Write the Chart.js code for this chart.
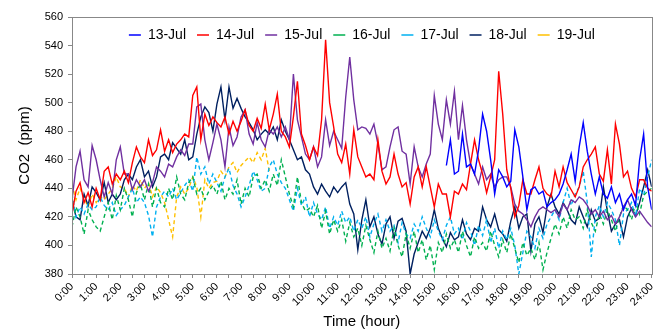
<!DOCTYPE html>
<html>
<head>
<meta charset="utf-8">
<script src="https://cdn.jsdelivr.net/npm/chart.js@4.4.0/dist/chart.umd.min.js"></script>
<style>
body { margin: 0; background: #fff; }
#graph1 { display: block; }
</style>
</head>
<body>
<canvas id="graph1" width="663" height="332"></canvas>
<script>
// CO2 readings every 10 minutes (ppm)
const hour_labels = ["0:00","1:00","2:00","3:00","4:00","5:00","6:00","7:00","8:00","9:00","10:00","11:00",
    "12:00","13:00","14:00","15:00","16:00","17:00","18:00","19:00","20:00","21:00","22:00","23:00","24:00"];
const series_names = ["13-Jul","14-Jul","15-Jul","16-Jul","17-Jul","18-Jul","19-Jul"];

// 13-Jul starts at 15:30
const jul13_start = 15.5;
const jul13 = [456, 474, 450,
    452, 478, 455, 457, 450, 467,
    492, 480, 460, 436, 453, 448,
    441, 445, 481, 469, 448, 425,
    439, 441, 436, 438, 427, 430,
    432, 436, 443, 453, 464, 445,
    469, 486, 466, 450, 436, 448,
    436, 433, 441, 430, 436, 425,
    432, 436, 428, 460, 478, 441,
    425];

const jul14 = [422, 438, 444, 430, 437, 427,
    440, 432, 452, 455, 443, 450,
    446, 452, 444, 458, 469, 462,
    458, 474, 463, 467, 481, 466,
    474, 465, 471, 474, 478, 476,
    505, 511, 474, 492, 484, 490,
    486, 483, 490, 478, 487, 480,
    487, 495, 484, 480, 489, 482,
    499, 481, 492, 506, 480, 476,
    469, 490, 515, 478, 470, 460,
    469, 463, 488, 544, 500, 483,
    464, 458, 471, 450, 481, 462,
    455, 448, 450, 446, 474, 452,
    443, 448, 464, 450, 441, 444,
    429, 448, 455, 441, 455, 441,
    427, 443, 436, 436, 420, 438,
    436, 443, 439, 457, 474, 460,
    450, 437, 448, 460, 522, 492,
    453, 440, 420, 428, 446, 436,
    436, 446, 455, 440, 436, 434,
    452, 441, 455, 444, 439, 434,
    441, 455, 460, 464, 469, 450,
    445, 467, 443, 485, 471, 448,
    452, 440, 434, 446, 446, 440,
    438];

const jul15 = [432, 455, 466, 446, 441, 470,
    460, 446, 434, 444, 436, 460,
    469, 450, 450, 439, 446, 441,
    446, 438, 444, 455, 452, 448,
    457, 455, 462, 467, 463, 471,
    471, 497, 499, 474, 460, 472,
    485, 474, 455, 483, 470, 476,
    490, 495, 478, 471, 486, 474,
    469, 481, 478, 483, 476, 483,
    474, 520, 488, 476, 464, 460,
    469, 455, 462, 488, 470, 480,
    474, 468, 504, 532, 502, 481,
    483, 482, 478, 485, 471, 453,
    455, 469, 481, 483, 466, 464,
    443, 469, 455, 448, 457, 464,
    505, 485, 474, 502, 485, 508,
    474, 498, 474, 457, 450, 443,
    455, 446, 450, 441, 446, 448,
    448, 441, 429, 424, 422, 418,
    413, 420, 425, 427, 425, 423,
    425, 420, 429, 425, 432, 430,
    434, 432, 428, 422, 425, 420,
    424, 418, 421, 415, 420, 427,
    432, 425, 420, 424, 420, 416,
    413];

const jul16 = [413, 427, 420, 408, 425, 418,
    413, 410, 420, 430, 418, 435,
    425, 440, 432, 420, 437, 443,
    432, 443, 427, 440, 430, 427,
    440, 432, 448, 436, 432, 444,
    448, 436, 440, 432, 438, 442,
    436, 445, 432, 440, 436, 446,
    429, 440, 434, 448, 450, 440,
    446, 438, 450, 442, 460, 448,
    436, 427, 448, 430, 424, 426,
    420, 428, 412, 424, 408, 418,
    410, 418, 403, 416, 406, 412,
    400, 414, 404, 395, 410, 398,
    405, 396, 412, 400, 392, 408,
    398, 410, 395, 404, 390, 400,
    383, 402, 395, 408, 398, 404,
    395, 410, 400, 392, 406, 398,
    402, 396, 410, 400, 392, 404,
    395, 408, 398, 388, 402, 393,
    398, 390, 402, 383, 395, 405,
    415, 408, 420, 412, 425, 418,
    420, 412, 425, 416, 410, 422,
    415, 425, 418, 410, 420, 428,
    425, 418, 430, 422, 435, 438,
    440];

const jul17 = [436, 420, 427, 422, 429, 425,
    427, 434, 428, 425, 430, 421,
    425, 428, 434, 440, 430, 434,
    430, 421, 406, 427, 434, 438,
    434, 440, 432, 437, 442, 446,
    438, 462, 450, 455, 443, 450,
    444, 438, 448, 454, 442, 436,
    427, 434, 442, 452, 446, 438,
    440, 455, 460, 450, 444, 440,
    432, 424, 440, 428, 434, 420,
    430, 422, 418, 427, 412, 420,
    414, 424, 416, 420, 410, 418,
    412, 420, 406, 415, 422, 410,
    418, 410, 414, 402, 416, 408,
    405, 415, 410, 420, 412, 406,
    418, 410, 404, 414, 420, 408,
    412, 404, 416, 410, 400, 414,
    407, 418, 402, 412, 398, 410,
    404, 412, 400, 380, 395, 410,
    406, 398, 412, 405, 415, 420,
    425, 418, 430, 440, 428, 436,
    441, 452, 430, 392, 420, 428,
    420, 430, 425, 418, 400, 422,
    425, 430, 420, 440, 435, 448,
    460];

const jul18 = [432, 420, 418, 436, 428, 441,
    437, 432, 444, 430, 436, 432,
    436, 446, 450, 446, 455, 460,
    448, 452, 441, 448, 462, 464,
    460, 472, 468, 464, 474, 460,
    462, 478, 490, 497, 493, 480,
    499, 511, 488, 511, 496, 503,
    496, 490, 486, 481, 474, 478,
    481, 478, 483, 474, 488, 480,
    474, 467, 460, 462, 453, 450,
    441, 436, 443, 438, 434, 441,
    437, 441, 444, 429, 422, 397,
    418, 432, 413, 420, 408, 401,
    415, 420, 405, 417, 419, 410,
    380, 394, 402, 410, 405, 412,
    425, 412, 405, 399, 409, 404,
    406, 418, 408, 404, 412, 410,
    427, 418, 413, 422, 411, 408,
    403, 417, 427, 412, 420, 422,
    396, 415, 420, 409, 427, 436,
    427, 422, 430, 425, 418, 415,
    427, 420, 413, 425, 417, 419,
    441, 424, 410, 415, 418, 406,
    420, 426, 421, 430, 441, 453,
    441];

// 19-Jul ends at 8:10
const jul19 = [443, 432, 440, 433, 427, 436,
    430, 434, 432, 436, 440, 448,
    441, 440, 434, 442, 438, 446,
    440, 444, 434, 441, 437, 430,
    418, 406, 434, 441, 436, 440,
    448, 441, 420, 446, 440, 444,
    445, 452, 448, 455, 458, 451,
    456, 459, 462, 458, 465, 460,
    468, 452];

const series_colors = ["#0000ff", "#ff0000", "#7030a0", "#00b050", "#00b0f0", "#002060", "#ffc000"];


window.addEventListener("load" , function (){
    draw_co2();
});


function to_points(values, start){
    let list = [];
    for (let i = 0; i < values.length; i++){
        list.push({ x: start + i / 6, y: values[i] });
    }
    return list;
}

function make_set(idx, values, start, dashed){
    return {
        label: series_names[idx],
        data: to_points(values, start),
        borderColor: series_colors[idx],
        backgroundColor: series_colors[idx],
        borderWidth: 1.4,
        borderDash: dashed ? [4, 3] : [],
        pointRadius: 0,
        tension: 0,
    };
}

// box around the plot (Excel style frame)
const frame_plugin = {
    id: "frame",
    afterDatasetsDraw(chart){
        const a = chart.chartArea;
        const c = chart.ctx;
        c.save();
        c.strokeStyle = "#888888";
        c.lineWidth = 1;
        c.strokeRect(Math.round(a.left) + 0.5, Math.round(a.top) + 0.5,
            Math.round(a.right - a.left), Math.round(a.bottom - a.top));
        c.restore();
    }
};

// legend sits inside the plot: keep it at the top but let it take no room
const legend_inside = {
    id: "legend_inside",
    beforeLayout(chart){
        const lg = chart.legend;
        if (lg && !lg._inside){
            const fit = lg.fit;
            const draw = lg.draw;
            lg.fit = function(){
                fit.call(this);
                this._real_h = this.height;
                this.height = 0;
            };
            // draw with the real height, otherwise the clip hides everything
            lg.draw = function(){
                const b = this.bottom;
                this.bottom = this.top + this._real_h;
                draw.call(this);
                this.bottom = b;
            };
            lg._inside = true;
        }
    }
};

function draw_co2(){

    Chart.defaults.font.family = "'Liberation Sans', Arial, sans-serif";
    Chart.defaults.color = "#000000";

    const ctx = document.getElementById("graph1").getContext('2d');
    const myChart = new Chart(ctx, {
        type: 'line',
        data: {
            datasets: [
                make_set(0, jul13, jul13_start, false),
                make_set(1, jul14, 0, false),
                make_set(2, jul15, 0, false),
                make_set(3, jul16, 0, true),
                make_set(4, jul17, 0, true),
                make_set(5, jul18, 0, false),
                make_set(6, jul19, 0, true),
            ]
        },
        plugins: [frame_plugin, legend_inside],
        options: {
            responsive: false,
            animation: false,
            layout: {
                padding: { left: 10, right: 6, top: 17, bottom: 0 }
            },
            plugins: {
                legend: {
                    position: "top",
                    align: "center",
                    fullSize: false,   // center over the plot, not the canvas
                    labels: {
                        usePointStyle: true,
                        pointStyle: "line",
                        pointStyleWidth: 12,
                        padding: 11,
                        font: { size: 14 },
                        color: "#000000",
                    }
                },
                tooltip: { enabled: false },
            },
            scales: {
                x: {
                    type: "linear",
                    min: 0,
                    max: 24,
                    afterFit: function(scale){ scale.height = 58; },
                    ticks: {
                        stepSize: 0.5,
                        autoSkip: false,
                        minRotation: 45,
                        maxRotation: 45,
                        padding: 2,
                        font: { size: 11 },
                        callback: function(v){
                            return Number.isInteger(v) ? hour_labels[v] : "";
                        }
                    },
                    grid: {
                        drawOnChartArea: false,
                        drawTicks: true,
                        tickLength: 4,
                        color: "#888888",
                    },
                    border: { display: true, color: "#888888" },
                    title: {
                        display: true,
                        text: "Time (hour)",
                        font: { size: 15 },
                        padding: { top: 0, bottom: 1 },
                    },
                },
                y: {
                    min: 380,
                    max: 560,
                    afterFit: function(scale){ scale.width = 62; },
                    ticks: {
                        stepSize: 10,
                        padding: 5,
                        font: { size: 11 },
                        callback: function(v){
                            return v % 20 === 0 ? v : "";
                        }
                    },
                    grid: {
                        drawOnChartArea: false,
                        drawTicks: true,
                        tickLength: 4,
                        color: "#888888",
                    },
                    border: { display: true, color: "#888888" },
                    title: {
                        display: true,
                        text: "CO2  (ppm)",
                        font: { size: 15 },
                        padding: { top: 6, bottom: 0 },
                    },
                }
            }
        }
    });
}
</script>
</body>
</html>
